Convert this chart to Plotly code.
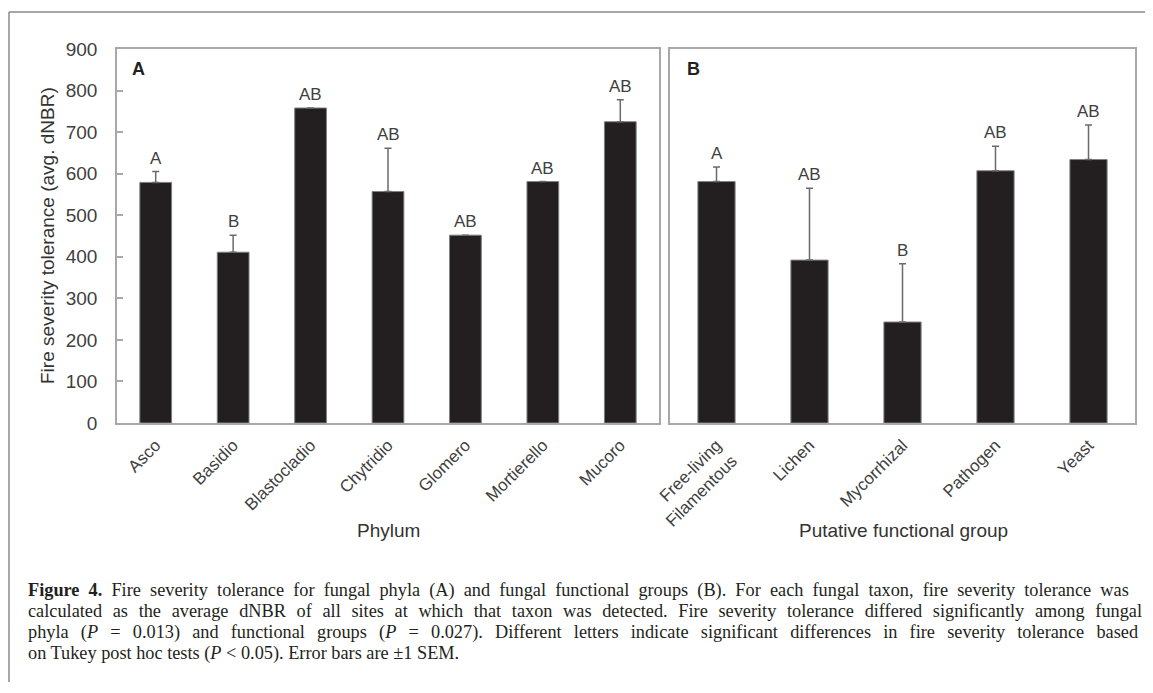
import plotly.graph_objects as go

# ---- data ----
phyla = ["Asco", "Basidio", "Blastocladio", "Chytridio", "Glomero", "Mortierello", "Mucoro"]
phyla_mean = [579, 411, 758, 557, 452, 581, 725]
phyla_sem = [26, 41, 0, 104, 0, 0, 53]
phyla_letters = ["A", "B", "AB", "AB", "AB", "AB", "AB"]

groups = ["Free-living<br>Filamentous", "Lichen", "Mycorrhizal", "Pathogen", "Yeast"]
group_mean = [581, 392, 243, 607, 634]
group_sem = [35, 173, 140, 59, 83]
group_letters = ["A", "AB", "B", "AB", "AB"]

y_ticks = [0, 100, 200, 300, 400, 500, 600, 700, 800, 900]

caption_lines = [
    "<b>Figure 4.</b> Fire severity tolerance for fungal phyla (A) and fungal functional groups (B). For each fungal taxon, fire severity tolerance was",
    "calculated as the average dNBR of all sites at which that taxon was detected. Fire severity tolerance differed significantly among fungal",
    "phyla (<i>P</i> = 0.013) and functional groups (<i>P</i> = 0.027). Different letters indicate significant differences in fire severity tolerance based",
    "on Tukey post hoc tests (<i>P</i> < 0.05). Error bars are ±1 SEM.",
]
# word gap used to imitate the justified caption (last line is not justified)
caption_gaps = ["\u2002", "\u2002\u200a", "\u2002\u200a\u200a", " "]

W, H = 1153, 693
OFF = 8  # page body margin of the viewer
BAR = "#231f20"
EDGE = "#808080"
TXT = "#404040"
FRAME = "#a8a8a8"
SANS = "Liberation Sans, Arial, sans-serif"
SERIF = "Liberation Serif, Times New Roman, serif"


def px_x(v):
    return (v - OFF) / W


def px_y(v):
    return 1 - (v - OFF) / H


fig = go.Figure()

fig.add_trace(go.Bar(
    x=phyla, y=phyla_mean, width=0.41,
    marker=dict(color=BAR, line=dict(color=EDGE, width=1)),
    error_y=dict(type="data", symmetric=False, array=phyla_sem,
                 arrayminus=[0] * len(phyla_sem),
                 color="#6a6a6a", thickness=1.5, width=3.5),
    xaxis="x", yaxis="y", showlegend=False,
))
fig.add_trace(go.Bar(
    x=groups, y=group_mean, width=0.40,
    marker=dict(color=BAR, line=dict(color=EDGE, width=1)),
    error_y=dict(type="data", symmetric=False, array=group_sem,
                 arrayminus=[0] * len(group_sem),
                 color="#6a6a6a", thickness=1.5, width=3.5),
    xaxis="x2", yaxis="y2", showlegend=False,
))

ydom = [px_y(423), px_y(49)]
axis_common = dict(showline=True, mirror=True, linecolor=FRAME, linewidth=1.5,
                   showgrid=False, zeroline=False, automargin=False)

fig.update_layout(
    template="none",
    autosize=False,
    width=W, height=H,
    margin=dict(l=0, r=0, t=0, b=0, pad=0),
    paper_bgcolor="white", plot_bgcolor="white",
    font=dict(family=SANS, color=TXT, size=17),
    xaxis=dict(domain=[px_x(117), px_x(659)], anchor="y", tickangle=-45,
               ticks="", tickfont=dict(size=17, color=TXT),
               ticklabelstandoff=4, **axis_common),
    xaxis2=dict(domain=[px_x(670), px_x(1135)], anchor="y2", tickangle=-45,
                ticks="", tickfont=dict(size=17, color=TXT),
                ticklabelstandoff=4, **axis_common),
    yaxis=dict(domain=ydom, anchor="x", range=[0, 900], tickvals=y_ticks,
               ticks="inside", ticklen=6, tickcolor=FRAME, tickwidth=1.5,
               ticklabelstandoff=14,
               tickfont=dict(size=19, color=TXT), **axis_common),
    yaxis2=dict(domain=ydom, anchor="x2", range=[0, 900], matches="y",
                showticklabels=False, ticks="", **axis_common),
)

ann = []
# significance letters
for xs, ms, ss, ls, xr, yr in [(phyla, phyla_mean, phyla_sem, phyla_letters, "x", "y"),
                               (groups, group_mean, group_sem, group_letters, "x2", "y2")]:
    for x, m, s, l in zip(xs, ms, ss, ls):
        ann.append(dict(x=x, y=m + s, xref=xr, yref=yr, text=l, showarrow=False,
                        yanchor="bottom", yshift=2,
                        font=dict(size=17, color=TXT, family=SANS)))

# panel labels
ann.append(dict(x=px_x(130), y=px_y(69), xref="paper", yref="paper", text="<b>A</b>",
                showarrow=False, xanchor="left", yanchor="middle",
                font=dict(size=18, color="#222222", family=SANS)))
ann.append(dict(x=px_x(685), y=px_y(69), xref="paper", yref="paper", text="<b>B</b>",
                showarrow=False, xanchor="left", yanchor="middle",
                font=dict(size=18, color="#222222", family=SANS)))

# axis titles
ann.append(dict(x=px_x(48), y=px_y(236), xref="paper", yref="paper",
                text="Fire severity tolerance (avg. dNBR)", textangle=-90,
                showarrow=False, xanchor="center", yanchor="middle",
                font=dict(size=19, color="#333333", family=SANS)))
ann.append(dict(x=px_x(388), y=px_y(530), xref="paper", yref="paper", text="Phylum",
                showarrow=False, xanchor="center", yanchor="middle",
                font=dict(size=19, color="#333333", family=SANS)))
ann.append(dict(x=px_x(903), y=px_y(530), xref="paper", yref="paper",
                text="Putative functional group",
                showarrow=False, xanchor="center", yanchor="middle",
                font=dict(size=19, color="#333333", family=SANS)))

# caption
for i, (line, gap) in enumerate(zip(caption_lines, caption_gaps)):
    ann.append(dict(x=px_x(26), y=px_y(590 + 21 * i), xref="paper", yref="paper",
                    text=line.replace(" ", gap) if gap != " " else line,
                    showarrow=False, xanchor="left", yanchor="middle",
                    font=dict(size=18.3, color="#231f20", family=SERIF)))

fig.update_layout(annotations=ann)

# outer figure frame (top and left edges)
fig.add_shape(type="line", xref="paper", yref="paper",
              x0=px_x(9), x1=1, y0=px_y(12), y1=px_y(12),
              line=dict(color="#8a8a8a", width=1.5))
fig.add_shape(type="line", xref="paper", yref="paper",
              x0=px_x(9), x1=px_x(9), y0=px_y(12), y1=px_y(682),
              line=dict(color="#8a8a8a", width=1.5))

fig.write_html("out.html")
